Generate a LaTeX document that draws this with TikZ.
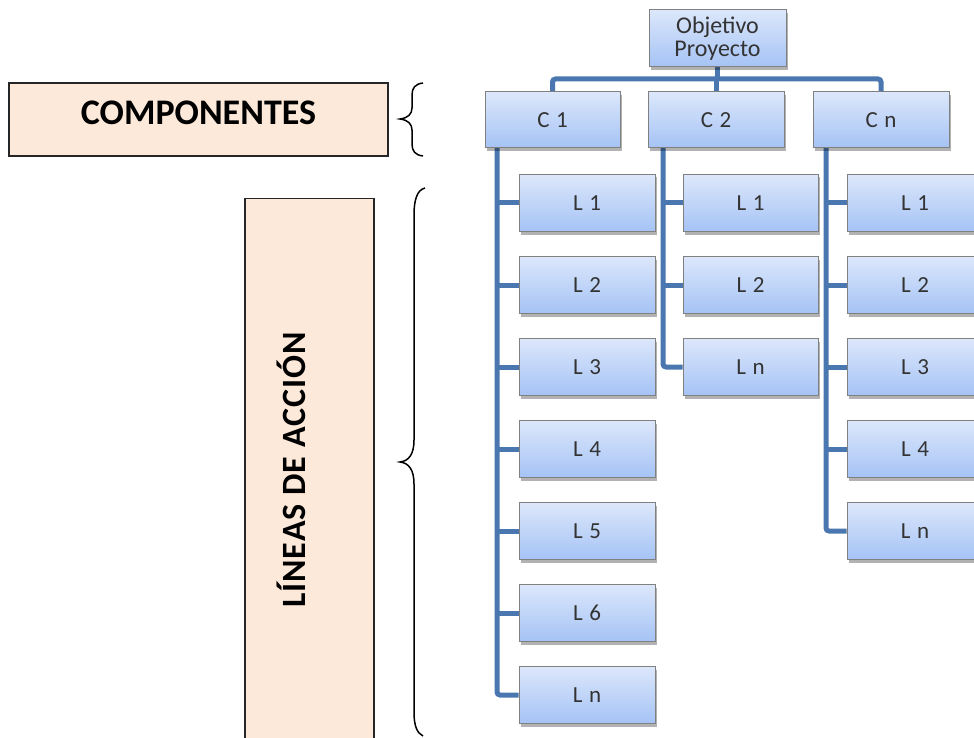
\documentclass[tikz,border=0pt]{standalone}
\usepackage{fontspec}
\setmainfont{Carlito}
\usetikzlibrary{shadows}
\definecolor{peach}{HTML}{FDE9D9}
\definecolor{bus}{HTML}{4A77B0}
\definecolor{boxtop}{HTML}{DCE7FB}
\definecolor{boxbot}{HTML}{A5C3F5}
\definecolor{boxline}{HTML}{808080}
\definecolor{txt}{HTML}{333333}
\pgfdeclarelayer{back}
\pgfdeclarelayer{links}
\pgfsetlayers{back,links,main}
\tikzset{
  bluebox/.style={draw=boxline, line width=1pt, top color=boxtop, bottom color=boxbot,
    minimum width=136pt, minimum height=57pt, inner sep=0pt, text=txt,
    font=\fontsize{23}{23}\selectfont\addfontfeature{LetterSpace=6},
    drop shadow={shadow xshift=2pt, shadow yshift=-3pt, opacity=0.3, fill=black}},
  link/.style={draw=bus, line width=5pt, rounded corners=3pt},
  labelbox/.style={draw=black!85, line width=1.5pt, fill=peach, inner sep=0pt},
  bracepath/.style={draw=black, line width=1.5pt},
  bigtext/.style={font=\fontsize{36}{40}\selectfont\bfseries, text=black, inner sep=0pt}
}
\begin{document}
\begin{tikzpicture}[x=1pt,y=-1pt]
\useasboundingbox (0,0) rectangle (974,738);
\begin{pgfonlayer}{back}
\fill[white] (0,0) rectangle (974,738);
\end{pgfonlayer}
\clip (0,0) rectangle (974,738);

% label boxes
\node[labelbox, minimum width=379pt, minimum height=73pt] (comp) at (198.5,119.5) {};
\node[bigtext, anchor=base] (comptext) at (198.5,125) {COMPONENTES};
\node[labelbox, anchor=north west, minimum width=129pt, minimum height=560pt] (linbox) at (244,198) {};
\node[bigtext, anchor=base, rotate=90, font=\fontsize{34}{40}\selectfont\bfseries\addfontfeature{LetterSpace=3}] (lintext) at (305,470) {LÍNEAS DE ACCIÓN};

% braces
\draw[bracepath] (423,83) .. controls (415,84) and (412,88) .. (412,95)
  -- (412,108) .. controls (412,114) and (408,118) .. (400,119)
  .. controls (408,120) and (412,124) .. (412,130)
  -- (412,144) .. controls (412,151) and (415,155) .. (423,156);
\draw[bracepath] (425,188) .. controls (417,190) and (414,200) .. (414,215)
  -- (414,440) .. controls (414,454) and (409,461) .. (400,462)
  .. controls (409,463) and (414,470) .. (414,484)
  -- (414,712) .. controls (414,726) and (417,733) .. (423,736);

% top node and components
\node[bluebox, minimum width=137pt, align=center,
  font=\fontsize{24}{23}\selectfont] (obj) at (717.5,38.5) {Objetivo\\Proyecto};
\node[bluebox, minimum width=135pt, minimum height=56pt] (c1) at (552.5,120) {C 1};
\node[bluebox, minimum width=136pt, minimum height=56pt] (c2) at (716,120) {C 2};
\node[bluebox, minimum width=136pt, minimum height=56pt] (cn) at (881,120) {C n};

% lines of C1
\foreach \k/\t [count=\i from 0] in {1/L 1,2/L 2,3/L 3,4/L 4,5/L 5,6/L 6,n/L n}
  \node[bluebox] (a\k) at (587,{203+82*\i}) {\t};
% lines of C2
\foreach \k/\t [count=\i from 0] in {1/L 1,2/L 2,n/L n}
  \node[bluebox, minimum width=135pt] (b\k) at (750.5,{203+82*\i}) {\t};
% lines of Cn
\foreach \k/\t [count=\i from 0] in {1/L 1,2/L 2,3/L 3,4/L 4,n/L n}
  \node[bluebox] (d\k) at (915,{203+82*\i}) {\t};

% connectors
\coordinate (bus) at (717,79);
\coordinate (v1) at (497,140);
\coordinate (v2) at (663,140);
\coordinate (v3) at (826,140);
\begin{pgfonlayer}{links}
\draw[link] (obj.south) -- (obj.south |- bus);
\draw[link] (c1.north) |- (cn.north |- bus) -- (cn.north);
\draw[link] (c2.north) -- (c2.north |- bus);
\draw[link] (v1) |- (an.west);
\foreach \k in {1,...,6} \draw[link] (v1 |- a\k.west) -- (a\k.west);
\draw[link] (v2) |- (bn.west);
\foreach \k in {1,2} \draw[link] (v2 |- b\k.west) -- (b\k.west);
\draw[link] (v3) |- (dn.west);
\foreach \k in {1,...,4} \draw[link] (v3 |- d\k.west) -- (d\k.west);
\end{pgfonlayer}
\end{tikzpicture}
\end{document}
